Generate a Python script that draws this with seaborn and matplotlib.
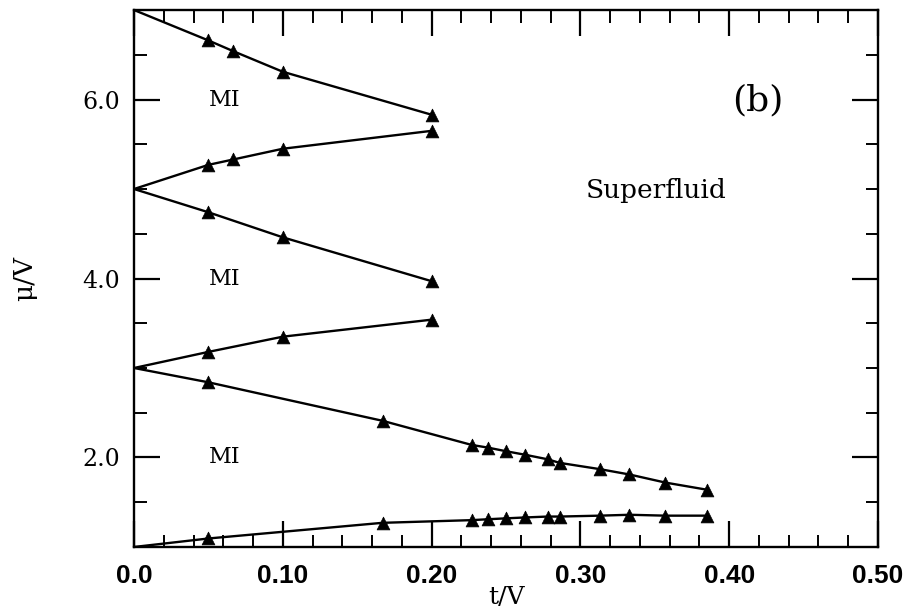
import matplotlib
matplotlib.use("Agg")
import matplotlib.pyplot as plt
import seaborn as sns
import pandas as pd
from matplotlib.ticker import MultipleLocator, FixedLocator, FixedFormatter

# ---- data ----
t_lobe_a = [0.0, 0.05, 0.0667, 0.10, 0.20]
mu_c1 = [7.00, 6.66, 6.54, 6.31, 5.83]
mu_c2 = [5.00, 5.27, 5.33, 5.45, 5.65]

t_lobe_b = [0.0, 0.05, 0.10, 0.20]
mu_c3 = [5.00, 4.74, 4.46, 3.97]
mu_c4 = [3.00, 3.18, 3.35, 3.54]

t_lobe_c = [0.0, 0.05, 0.167, 0.227, 0.238, 0.25, 0.263, 0.278, 0.286,
            0.313, 0.333, 0.357, 0.385]
mu_c5 = [3.00, 2.84, 2.41, 2.14, 2.11, 2.07, 2.03, 1.98, 1.94, 1.87, 1.81, 1.72, 1.64]
mu_c6 = [1.00, 1.095, 1.27, 1.30, 1.31, 1.32, 1.33, 1.34, 1.34, 1.35, 1.36, 1.35, 1.35]

x_ticks = [0.0, 0.10, 0.20, 0.30, 0.40, 0.50]
x_ticklabels = ["0.0", "0.10", "0.20", "0.30", "0.40", "0.50"]
y_ticks = [2.0, 4.0, 6.0]
y_ticklabels = ["2.0", "4.0", "6.0"]

region_labels = ["MI", "MI", "MI"]
region_t = [0.061, 0.061, 0.061]
region_mu = [6.0, 4.0, 2.0]

# ---- long table ----
rows = []
for cid, (ts, ms) in enumerate([(t_lobe_a, mu_c1), (t_lobe_a, mu_c2),
                                (t_lobe_b, mu_c3), (t_lobe_b, mu_c4),
                                (t_lobe_c, mu_c5), (t_lobe_c, mu_c6)]):
    for t, m in zip(ts, ms):
        rows.append({"curve": cid, "t": t, "mu": m})
df = pd.DataFrame(rows)
pts = df[df["t"] > 0]

sns.set_style("ticks")
plt.rcParams["font.family"] = ["DejaVu Serif"]
plt.rcParams["text.color"] = "black"
plt.rcParams["axes.labelcolor"] = "black"
plt.rcParams["xtick.color"] = "black"
plt.rcParams["ytick.color"] = "black"

fig = plt.figure(figsize=(9.1, 6.15), dpi=100)
ax = fig.add_axes([0.1473, 0.1106, 0.9648 - 0.1473, 0.9837 - 0.1106])

sns.lineplot(data=df, x="t", y="mu", units="curve", estimator=None, sort=False,
             color="black", linewidth=1.7, ax=ax, legend=False)
sns.scatterplot(data=pts, x="t", y="mu", marker="^", s=85, color="black",
                edgecolor="black", linewidth=0.5, ax=ax, legend=False, zorder=3)

ax.set_xlim(0.0, 0.5)
ax.set_ylim(1.0, 7.0)

ax.xaxis.set_major_locator(FixedLocator(x_ticks))
ax.xaxis.set_major_formatter(FixedFormatter(x_ticklabels))
ax.xaxis.set_minor_locator(MultipleLocator(0.02))
ax.yaxis.set_major_locator(FixedLocator(y_ticks))
ax.yaxis.set_major_formatter(FixedFormatter(y_ticklabels))
ax.yaxis.set_minor_locator(MultipleLocator(0.5))

ax.tick_params(which="both", direction="in", top=True, right=True, color="black",
               labelcolor="black")
ax.tick_params(which="major", length=19, width=1.6)
ax.tick_params(which="minor", length=9, width=1.4)
ax.tick_params(axis="x", which="major", pad=12)
ax.tick_params(axis="y", which="major", pad=10)

for lab in ax.get_xticklabels():
    lab.set_fontfamily("Liberation Sans")
    lab.set_fontweight("bold")
    lab.set_fontsize(19)
for lab in ax.get_yticklabels():
    lab.set_fontfamily("DejaVu Serif")
    lab.set_fontsize(17)

for sp in ax.spines.values():
    sp.set_linewidth(1.7)
    sp.set_color("black")
    sp.set_visible(True)

ax.set_xlabel("t/V", fontsize=18, fontfamily="DejaVu Serif", color="black")
ax.xaxis.set_label_coords(0.5, -0.095)
ax.xaxis.label.set_va("center")
ax.set_ylabel("\u03bc/V", fontsize=19, fontfamily="DejaVu Serif", color="black")
ax.yaxis.set_label_coords(-0.13, 0.5)

for lbl, tx, my in zip(region_labels, region_t, region_mu):
    ax.text(tx, my, lbl, fontsize=16, ha="center", va="center",
            fontfamily="DejaVu Serif", color="black")
ax.text(0.351, 4.98, "Superfluid", fontsize=19, ha="center", va="center",
        fontfamily="DejaVu Serif", color="black")
ax.text(0.419, 5.99, "(b)", fontsize=26, ha="center", va="center",
        fontfamily="DejaVu Serif", color="black")

fig.savefig("out.png", dpi=100, facecolor="white")
